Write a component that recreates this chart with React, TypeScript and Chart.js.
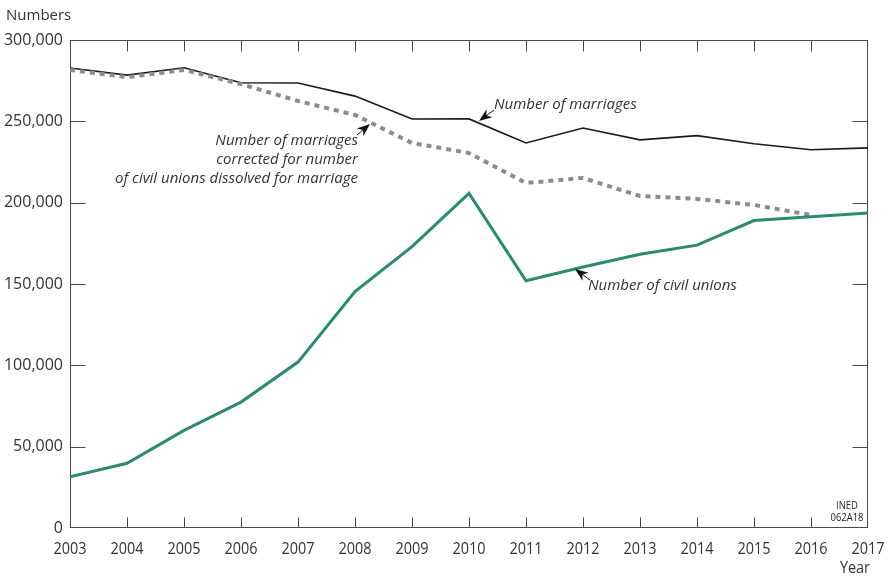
import React, { useEffect, useRef } from "react";
import { Chart, registerables } from "chart.js";

Chart.register(...registerables);

const years = [2003, 2004, 2005, 2006, 2007, 2008, 2009, 2010, 2011, 2012, 2013, 2014, 2015, 2016, 2017];
const marriages = [282800, 278400, 282900, 273700, 273600, 265500, 251400, 251500, 236700, 245900, 238600, 241200, 236200, 232500, 233700];
const correctedMarriages = [281600, 277200, 281600, 272900, 262500, 253900, 236700, 230500, 212100, 215200, 204100, 202300, 198600, 192400, null];
const civilUnions = [31500, 39800, 60000, 77400, 102000, 145400, 173000, 205700, 152000, 160500, 168300, 173900, 189000, 191300, 193700];
const yTicks = [0, 50000, 100000, 150000, 200000, 250000, 300000];

const AXIS = "#4a4a4a";
const TEXT = "#333333";
const GREEN = "#2a8a72";
const GREY = "#8c8c8c";

const toPts = (vals: (number | null)[]) => years.map((yr, i) => ({ x: yr, y: vals[i] }));

// draw condensed text by compressing it horizontally
function narrowText(
  ctx: CanvasRenderingContext2D,
  text: string,
  x: number,
  y: number,
  align: "left" | "center" | "right",
  squeeze: number
) {
  ctx.save();
  ctx.translate(x, y);
  ctx.scale(squeeze, 1);
  ctx.textAlign = align;
  ctx.fillText(text, 0, 0);
  ctx.restore();
}

function arrow(ctx: CanvasRenderingContext2D, tx: number, ty: number, fx: number, fy: number) {
  const ang = Math.atan2(ty - fy, tx - fx);
  const len = 13;
  const w = 5;
  ctx.save();
  ctx.strokeStyle = "#111";
  ctx.fillStyle = "#111";
  ctx.lineWidth = 1;
  ctx.beginPath();
  ctx.moveTo(fx, fy);
  ctx.lineTo(tx - Math.cos(ang) * len * 0.6, ty - Math.sin(ang) * len * 0.6);
  ctx.stroke();
  const bx = tx - Math.cos(ang) * len;
  const by = ty - Math.sin(ang) * len;
  const nx = -Math.sin(ang);
  const ny = Math.cos(ang);
  ctx.beginPath();
  ctx.moveTo(tx, ty);
  ctx.lineTo(bx + nx * w, by + ny * w);
  ctx.lineTo(tx - Math.cos(ang) * len * 0.7, ty - Math.sin(ang) * len * 0.7);
  ctx.lineTo(bx - nx * w, by - ny * w);
  ctx.closePath();
  ctx.fill();
  ctx.restore();
}

const framePlugin = {
  id: "frame",
  beforeDatasetsDraw(chart: any) {
    const { ctx, chartArea: a, scales } = chart;
    const L = Math.round(a.left) + 0.5;
    const R = Math.round(a.right) - 0.5;
    const T = Math.round(a.top) + 0.5;
    const B = Math.round(a.bottom) - 0.5;
    ctx.save();
    ctx.strokeStyle = AXIS;
    ctx.lineWidth = 1;
    ctx.strokeRect(L, T, R - L, B - T);
    ctx.beginPath();
    years.forEach((yr) => {
      const x = Math.round(scales.x.getPixelForValue(yr)) + 0.5;
      if (x <= L + 1 || x >= R - 1) return;
      ctx.moveTo(x, T);
      ctx.lineTo(x, T + 11);
      ctx.moveTo(x, B);
      ctx.lineTo(x, B - 10);
    });
    yTicks.forEach((v) => {
      const y = Math.round(scales.y.getPixelForValue(v)) + 0.5;
      if (y <= T + 1 || y >= B - 1) return;
      ctx.moveTo(L, y);
      ctx.lineTo(L + 15, y);
      ctx.moveTo(R, y);
      ctx.lineTo(R - 15, y);
    });
    ctx.stroke();
    ctx.restore();
  },
  afterDraw(chart: any) {
    const { ctx, scales } = chart;
    ctx.save();
    ctx.fillStyle = TEXT;
    ctx.textBaseline = "middle";

    // x tick labels (condensed)
    ctx.font = "16px 'Open Sans', sans-serif";
    const w0 = ctx.measureText("2003").width;
    const sq = 33 / w0;
    years.forEach((yr) => {
      narrowText(ctx, String(yr), scales.x.getPixelForValue(yr), 549, "center", sq);
    });
    narrowText(ctx, "Year", 870, 568, "right", sq);

    ctx.font = "15px 'Open Sans', sans-serif";
    ctx.textAlign = "left";
    ctx.fillText("Numbers", 6, 16);

    ctx.font = "italic 15px 'Open Sans', sans-serif";
    ctx.textAlign = "left";
    ctx.fillText("Number of marriages", 494, 105);
    ctx.fillText("Number of civil unions", 588, 286);
    ctx.textAlign = "right";
    ctx.fillText("Number of marriages", 358, 141);
    ctx.fillText("corrected for number", 358, 160);
    ctx.fillText("of civil unions dissolved for marriage", 358, 179);

    ctx.font = "11px 'Open Sans', sans-serif";
    ctx.fillStyle = "#222";
    const wi = ctx.measureText("062A18").width;
    const sq2 = 33 / wi;
    narrowText(ctx, "INED", 847, 506, "center", sq2);
    narrowText(ctx, "062A18", 847, 518, "center", sq2);

    arrow(ctx, 479, 121, 494, 110);
    arrow(ctx, 370, 124, 357, 135);
    arrow(ctx, 575, 269, 590, 280);
    ctx.restore();
  },
};

export default function App() {
  const ref = useRef<HTMLCanvasElement>(null);
  useEffect(() => {
    document.body.style.margin = "0";
    const chart = new Chart(ref.current!, {
      type: "line",
      data: {
        datasets: [
          {
            label: "Number of civil unions",
            data: toPts(civilUnions),
            borderColor: GREEN,
            borderWidth: 3,
            pointRadius: 0,
            tension: 0,
          },
          {
            label: "Corrected",
            data: toPts(correctedMarriages),
            borderColor: GREY,
            borderWidth: 4,
            borderDash: [5, 5],
            pointRadius: 0,
            tension: 0,
            spanGaps: false,
          },
          {
            label: "Number of marriages",
            data: toPts(marriages),
            borderColor: "#1a1a1a",
            borderWidth: 1.6,
            pointRadius: 0,
            tension: 0,
          },
        ],
      },
      options: {
        animation: false,
        responsive: true,
        maintainAspectRatio: false,
        layout: { padding: { top: 40, right: 22, left: 0, bottom: 0 } },
        plugins: { legend: { display: false }, tooltip: { enabled: false } },
        scales: {
          x: {
            type: "linear",
            min: 2003,
            max: 2017,
            grid: { display: false, drawTicks: false },
            border: { display: false },
            afterFit: (s: any) => {
              s.height = 49;
            },
            afterBuildTicks: (s: any) => {
              s.ticks = years.map((v) => ({ value: v }));
            },
            ticks: { display: false },
          },
          y: {
            min: 0,
            max: 300000,
            grid: { display: false, drawTicks: false },
            border: { display: false },
            afterFit: (s: any) => {
              s.width = 70;
            },
            afterBuildTicks: (s: any) => {
              s.ticks = yTicks.map((v) => ({ value: v }));
            },
            ticks: {
              padding: 7,
              color: TEXT,
              font: { family: "'Open Sans', sans-serif", size: 16 },
              callback: (v: any) => Number(v).toLocaleString("en-US"),
            },
          },
        },
      },
      plugins: [framePlugin],
    } as any);
    return () => chart.destroy();
  }, []);
  return (
    <div style={{ position: "absolute", left: 0, top: 0, width: 890, height: 577 }}>
      <canvas ref={ref} />
    </div>
  );
}
